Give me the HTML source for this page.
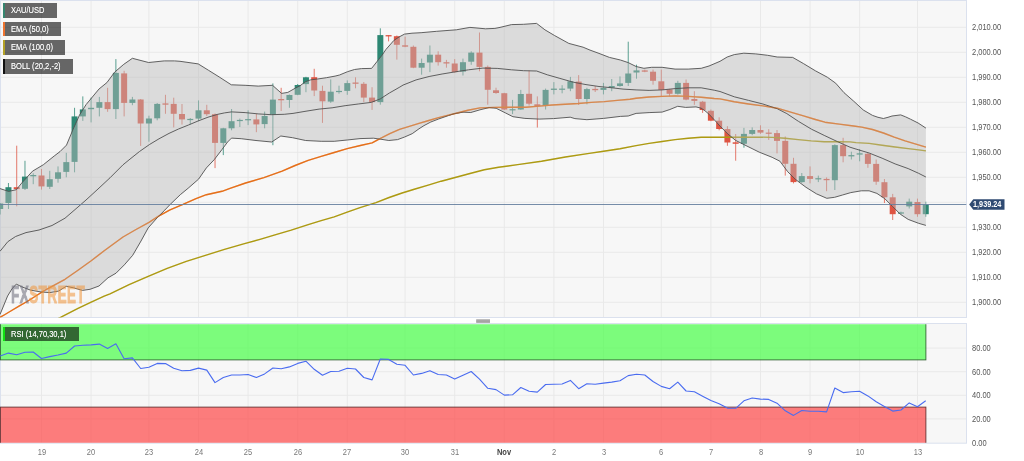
<!DOCTYPE html>
<html><head><meta charset="utf-8"><title>XAU/USD</title>
<style>
html,body{margin:0;padding:0;background:#fff;}
body{width:1024px;height:461px;position:relative;overflow:hidden;font-family:"Liberation Sans",sans-serif;}
.ax{position:absolute;left:972px;font-size:7.5px;line-height:10px;height:10px;color:#555;white-space:nowrap;transform:translateY(1.1px) scaleY(1.13);will-change:transform;}
.dt{position:absolute;top:447.5px;width:40px;text-align:center;font-size:7.5px;line-height:10px;color:#777;white-space:nowrap;transform:scaleY(1.13);will-change:transform;}
.dt.b{font-weight:bold;color:#444;}
.lg{position:absolute;left:3.1px;height:14.5px;box-sizing:border-box;border-left:2px solid #000;background:rgba(0,0,0,0.59);color:#fff;font-size:7.55px;line-height:14.5px;padding-left:6px;white-space:nowrap;overflow:hidden;}
.lg span{display:inline-block;transform:translateY(1.2px) scaleY(1.13);will-change:transform;text-shadow:0 0 0.5px rgba(255,255,255,0.55);}
.tag{position:absolute;left:973px;top:200.2px;width:30px;height:10px;line-height:10px;font-size:7.3px;font-weight:bold;color:#fff;white-space:nowrap;transform:scaleY(1.13);will-change:transform;}
.wm{position:absolute;left:10.6px;top:280.5px;font-size:23.3px;line-height:28px;font-weight:bold;white-space:nowrap;transform-origin:0 50%;transform:scaleX(0.585);letter-spacing:0.6px;will-change:transform;opacity:0.55;}
.wm .a{color:#6a6a78;-webkit-text-stroke:0.9px #6a6a78;}
.wm .c{color:#f0953a;-webkit-text-stroke:0.9px #f0953a;}
</style></head><body>
<svg width="1024" height="461" viewBox="0 0 1024 461" style="position:absolute;left:0;top:0">
<defs><clipPath id="cm"><rect x="0" y="0.5" width="966.5" height="317"/></clipPath><clipPath id="cr"><rect x="0" y="324.3" width="966.5" height="118.5"/></clipPath></defs>
<rect x="-1" y="0.5" width="967.5" height="317.0" fill="#f7f7f7" stroke="#dbe1ee" stroke-width="1"/>
<rect x="-1" y="323.5" width="967.5" height="119.69999999999999" fill="#f7f7f7" stroke="#dbe1ee" stroke-width="1"/>
<line x1="0.5" y1="0" x2="0.5" y2="317.5" stroke="#dbe1ee"/>
<line x1="0.5" y1="323.5" x2="0.5" y2="443.2" stroke="#dbe1ee"/>
<path d="M41.5 1V317.0M41.5 324.0V442.7M91.1 1V317.0M91.1 324.0V442.7M148.9 1V317.0M148.9 324.0V442.7M198.5 1V317.0M198.5 324.0V442.7M248.1 1V317.0M248.1 324.0V442.7M297.7 1V317.0M297.7 324.0V442.7M347.3 1V317.0M347.3 324.0V442.7M405.1 1V317.0M405.1 324.0V442.7M454.7 1V317.0M454.7 324.0V442.7M504.3 1V317.0M504.3 324.0V442.7M553.9 1V317.0M553.9 324.0V442.7M603.5 1V317.0M603.5 324.0V442.7M661.3 1V317.0M661.3 324.0V442.7M710.9 1V317.0M710.9 324.0V442.7M760.5 1V317.0M760.5 324.0V442.7M810.1 1V317.0M810.1 324.0V442.7M859.6 1V317.0M859.6 324.0V442.7M917.5 1V317.0M917.5 324.0V442.7M1 27.3H966.0M1 52.3H966.0M1 77.3H966.0M1 102.3H966.0M1 127.3H966.0M1 152.3H966.0M1 177.3H966.0M1 202.3H966.0M1 227.3H966.0M1 252.3H966.0M1 277.3H966.0M1 302.3H966.0M1 418.9H966.0M1 395.3H966.0M1 371.7H966.0M1 348.1H966.0" stroke="#e9e9e9" stroke-width="1" fill="none"/>
<g clip-path="url(#cm)">
<line x1="0.18" y1="203.0" x2="0.18" y2="214.5" stroke="#2d8773" stroke-width="1" stroke-opacity="0.78"/>
<rect x="-2.82" y="203.5" width="6" height="5.5" fill="#2d8773"/>
<line x1="8.44" y1="183.0" x2="8.44" y2="209.0" stroke="#2d8773" stroke-width="1" stroke-opacity="0.78"/>
<rect x="5.44" y="187.2" width="6" height="15.8" fill="#2d8773"/>
<line x1="16.71" y1="145.7" x2="16.71" y2="206.3" stroke="#de5442" stroke-width="1" stroke-opacity="0.78"/>
<rect x="13.71" y="187.2" width="6" height="1.9" fill="#de5442"/>
<line x1="24.97" y1="160.8" x2="24.97" y2="190.0" stroke="#2d8773" stroke-width="1" stroke-opacity="0.78"/>
<rect x="21.97" y="176.6" width="6" height="12.2" fill="#2d8773"/>
<line x1="33.24" y1="173.3" x2="33.24" y2="184.2" stroke="#2d8773" stroke-width="1" stroke-opacity="0.78"/>
<rect x="30.24" y="175.0" width="6" height="1.3" fill="#2d8773"/>
<line x1="41.50" y1="169.0" x2="41.50" y2="189.6" stroke="#de5442" stroke-width="1" stroke-opacity="0.78"/>
<rect x="38.50" y="175.5" width="6" height="10.9" fill="#de5442"/>
<line x1="49.76" y1="170.8" x2="49.76" y2="189.0" stroke="#2d8773" stroke-width="1" stroke-opacity="0.78"/>
<rect x="46.76" y="179.2" width="6" height="7.6" fill="#2d8773"/>
<line x1="58.03" y1="166.4" x2="58.03" y2="182.7" stroke="#2d8773" stroke-width="1" stroke-opacity="0.78"/>
<rect x="55.03" y="172.3" width="6" height="6.5" fill="#2d8773"/>
<line x1="66.29" y1="152.8" x2="66.29" y2="177.3" stroke="#2d8773" stroke-width="1" stroke-opacity="0.78"/>
<rect x="63.29" y="162.1" width="6" height="9.8" fill="#2d8773"/>
<line x1="74.56" y1="107.8" x2="74.56" y2="172.3" stroke="#2d8773" stroke-width="1" stroke-opacity="0.78"/>
<rect x="71.56" y="116.4" width="6" height="45.5" fill="#2d8773"/>
<line x1="82.82" y1="96.4" x2="82.82" y2="120.9" stroke="#2d8773" stroke-width="1" stroke-opacity="0.78"/>
<rect x="79.82" y="109.4" width="6" height="7.0" fill="#2d8773"/>
<line x1="91.08" y1="97.7" x2="91.08" y2="122.4" stroke="#2d8773" stroke-width="1" stroke-opacity="0.78"/>
<rect x="88.08" y="107.8" width="6" height="1.4" fill="#2d8773"/>
<line x1="99.35" y1="96.9" x2="99.35" y2="116.4" stroke="#2d8773" stroke-width="1" stroke-opacity="0.78"/>
<rect x="96.35" y="102.1" width="6" height="5.7" fill="#2d8773"/>
<line x1="107.61" y1="87.8" x2="107.61" y2="111.8" stroke="#de5442" stroke-width="1" stroke-opacity="0.78"/>
<rect x="104.61" y="102.1" width="6" height="7.0" fill="#de5442"/>
<line x1="115.88" y1="59.1" x2="115.88" y2="119.0" stroke="#2d8773" stroke-width="1" stroke-opacity="0.78"/>
<rect x="112.88" y="72.9" width="6" height="36.2" fill="#2d8773"/>
<line x1="124.14" y1="70.8" x2="124.14" y2="116.4" stroke="#de5442" stroke-width="1" stroke-opacity="0.78"/>
<rect x="121.14" y="73.4" width="6" height="29.5" fill="#de5442"/>
<line x1="132.40" y1="96.9" x2="132.40" y2="105.2" stroke="#2d8773" stroke-width="1" stroke-opacity="0.78"/>
<rect x="129.40" y="99.5" width="6" height="3.4" fill="#2d8773"/>
<line x1="140.67" y1="99.0" x2="140.67" y2="145.9" stroke="#de5442" stroke-width="1" stroke-opacity="0.78"/>
<rect x="137.67" y="99.5" width="6" height="24.0" fill="#de5442"/>
<line x1="148.93" y1="115.7" x2="148.93" y2="141.7" stroke="#2d8773" stroke-width="1" stroke-opacity="0.78"/>
<rect x="145.93" y="118.5" width="6" height="5.0" fill="#2d8773"/>
<line x1="157.20" y1="103.0" x2="157.20" y2="120.3" stroke="#2d8773" stroke-width="1" stroke-opacity="0.78"/>
<rect x="154.20" y="103.9" width="6" height="14.4" fill="#2d8773"/>
<line x1="165.46" y1="94.8" x2="165.46" y2="113.8" stroke="#de5442" stroke-width="1" stroke-opacity="0.78"/>
<rect x="162.46" y="103.4" width="6" height="1.3" fill="#de5442"/>
<line x1="173.72" y1="97.7" x2="173.72" y2="127.4" stroke="#de5442" stroke-width="1" stroke-opacity="0.78"/>
<rect x="170.72" y="103.9" width="6" height="9.9" fill="#de5442"/>
<line x1="181.99" y1="104.0" x2="181.99" y2="124.6" stroke="#de5442" stroke-width="1" stroke-opacity="0.78"/>
<rect x="178.99" y="114.0" width="6" height="5.4" fill="#de5442"/>
<line x1="190.25" y1="118.0" x2="190.25" y2="124.4" stroke="#2d8773" stroke-width="1" stroke-opacity="0.78"/>
<rect x="187.25" y="118.9" width="6" height="1.2" fill="#2d8773"/>
<line x1="198.52" y1="100.4" x2="198.52" y2="121.2" stroke="#2d8773" stroke-width="1" stroke-opacity="0.78"/>
<rect x="195.52" y="110.3" width="6" height="8.3" fill="#2d8773"/>
<line x1="206.78" y1="104.8" x2="206.78" y2="116.0" stroke="#de5442" stroke-width="1" stroke-opacity="0.78"/>
<rect x="203.78" y="110.3" width="6" height="3.9" fill="#de5442"/>
<line x1="215.04" y1="113.5" x2="215.04" y2="168.1" stroke="#de5442" stroke-width="1" stroke-opacity="0.78"/>
<rect x="212.04" y="114.2" width="6" height="28.7" fill="#de5442"/>
<line x1="223.31" y1="127.8" x2="223.31" y2="155.1" stroke="#2d8773" stroke-width="1" stroke-opacity="0.78"/>
<rect x="220.31" y="128.3" width="6" height="14.6" fill="#2d8773"/>
<line x1="231.57" y1="109.0" x2="231.57" y2="130.3" stroke="#2d8773" stroke-width="1" stroke-opacity="0.78"/>
<rect x="228.57" y="121.2" width="6" height="7.1" fill="#2d8773"/>
<line x1="239.84" y1="118.6" x2="239.84" y2="127.0" stroke="#2d8773" stroke-width="1" stroke-opacity="0.78"/>
<rect x="236.84" y="119.9" width="6" height="1.2" fill="#2d8773"/>
<line x1="248.10" y1="110.3" x2="248.10" y2="125.1" stroke="#2d8773" stroke-width="1" stroke-opacity="0.78"/>
<rect x="245.10" y="119.1" width="6" height="1.2" fill="#2d8773"/>
<line x1="256.36" y1="113.9" x2="256.36" y2="132.2" stroke="#de5442" stroke-width="1" stroke-opacity="0.78"/>
<rect x="253.36" y="119.4" width="6" height="5.0" fill="#de5442"/>
<line x1="264.63" y1="111.6" x2="264.63" y2="128.3" stroke="#2d8773" stroke-width="1" stroke-opacity="0.78"/>
<rect x="261.63" y="116.0" width="6" height="8.1" fill="#2d8773"/>
<line x1="272.89" y1="83.4" x2="272.89" y2="145.2" stroke="#2d8773" stroke-width="1" stroke-opacity="0.78"/>
<rect x="269.89" y="99.6" width="6" height="15.1" fill="#2d8773"/>
<line x1="281.16" y1="87.8" x2="281.16" y2="111.0" stroke="#de5442" stroke-width="1" stroke-opacity="0.78"/>
<rect x="278.16" y="99.0" width="6" height="1.3" fill="#de5442"/>
<line x1="289.42" y1="94.5" x2="289.42" y2="107.8" stroke="#2d8773" stroke-width="1" stroke-opacity="0.78"/>
<rect x="286.42" y="95.0" width="6" height="5.0" fill="#2d8773"/>
<line x1="297.68" y1="84.0" x2="297.68" y2="95.2" stroke="#2d8773" stroke-width="1" stroke-opacity="0.78"/>
<rect x="294.68" y="85.0" width="6" height="9.8" fill="#2d8773"/>
<line x1="305.95" y1="76.8" x2="305.95" y2="92.2" stroke="#2d8773" stroke-width="1" stroke-opacity="0.78"/>
<rect x="302.95" y="77.3" width="6" height="6.8" fill="#2d8773"/>
<line x1="314.21" y1="68.8" x2="314.21" y2="96.1" stroke="#de5442" stroke-width="1" stroke-opacity="0.78"/>
<rect x="311.21" y="77.2" width="6" height="13.3" fill="#de5442"/>
<line x1="322.48" y1="85.7" x2="322.48" y2="122.9" stroke="#de5442" stroke-width="1" stroke-opacity="0.78"/>
<rect x="319.48" y="90.9" width="6" height="10.4" fill="#de5442"/>
<line x1="330.74" y1="79.4" x2="330.74" y2="102.9" stroke="#2d8773" stroke-width="1" stroke-opacity="0.78"/>
<rect x="327.74" y="91.7" width="6" height="9.9" fill="#2d8773"/>
<line x1="339.00" y1="85.7" x2="339.00" y2="93.7" stroke="#2d8773" stroke-width="1" stroke-opacity="0.78"/>
<rect x="336.00" y="90.9" width="6" height="1.2" fill="#2d8773"/>
<line x1="347.27" y1="80.4" x2="347.27" y2="94.8" stroke="#2d8773" stroke-width="1" stroke-opacity="0.78"/>
<rect x="344.27" y="83.1" width="6" height="7.8" fill="#2d8773"/>
<line x1="355.53" y1="77.3" x2="355.53" y2="88.3" stroke="#de5442" stroke-width="1" stroke-opacity="0.78"/>
<rect x="352.53" y="82.5" width="6" height="1.3" fill="#de5442"/>
<line x1="363.80" y1="82.0" x2="363.80" y2="102.1" stroke="#de5442" stroke-width="1" stroke-opacity="0.78"/>
<rect x="360.80" y="83.8" width="6" height="13.8" fill="#de5442"/>
<line x1="372.06" y1="87.2" x2="372.06" y2="109.9" stroke="#de5442" stroke-width="1" stroke-opacity="0.78"/>
<rect x="369.06" y="97.6" width="6" height="4.5" fill="#de5442"/>
<line x1="380.32" y1="28.3" x2="380.32" y2="104.7" stroke="#2d8773" stroke-width="1" stroke-opacity="0.78"/>
<rect x="377.32" y="35.1" width="6" height="67.0" fill="#2d8773"/>
<line x1="388.59" y1="35.1" x2="388.59" y2="41.4" stroke="#de5442" stroke-width="1" stroke-opacity="0.78"/>
<rect x="385.59" y="35.1" width="6" height="1.3" fill="#de5442"/>
<line x1="396.85" y1="35.5" x2="396.85" y2="59.6" stroke="#de5442" stroke-width="1" stroke-opacity="0.78"/>
<rect x="393.85" y="36.2" width="6" height="8.6" fill="#de5442"/>
<line x1="405.12" y1="36.6" x2="405.12" y2="47.2" stroke="#de5442" stroke-width="1" stroke-opacity="0.78"/>
<rect x="402.12" y="45.3" width="6" height="1.4" fill="#de5442"/>
<line x1="413.38" y1="45.5" x2="413.38" y2="68.2" stroke="#de5442" stroke-width="1" stroke-opacity="0.78"/>
<rect x="410.38" y="46.8" width="6" height="20.9" fill="#de5442"/>
<line x1="421.64" y1="58.6" x2="421.64" y2="74.7" stroke="#2d8773" stroke-width="1" stroke-opacity="0.78"/>
<rect x="418.64" y="63.0" width="6" height="4.7" fill="#2d8773"/>
<line x1="429.91" y1="45.5" x2="429.91" y2="72.1" stroke="#2d8773" stroke-width="1" stroke-opacity="0.78"/>
<rect x="426.91" y="54.7" width="6" height="7.8" fill="#2d8773"/>
<line x1="438.17" y1="51.3" x2="438.17" y2="65.6" stroke="#de5442" stroke-width="1" stroke-opacity="0.78"/>
<rect x="435.17" y="54.7" width="6" height="7.5" fill="#de5442"/>
<line x1="446.44" y1="59.9" x2="446.44" y2="67.7" stroke="#de5442" stroke-width="1" stroke-opacity="0.78"/>
<rect x="443.44" y="62.2" width="6" height="1.3" fill="#de5442"/>
<line x1="454.70" y1="59.1" x2="454.70" y2="72.8" stroke="#de5442" stroke-width="1" stroke-opacity="0.78"/>
<rect x="451.70" y="63.5" width="6" height="8.6" fill="#de5442"/>
<line x1="462.96" y1="58.6" x2="462.96" y2="75.5" stroke="#2d8773" stroke-width="1" stroke-opacity="0.78"/>
<rect x="459.96" y="62.2" width="6" height="9.4" fill="#2d8773"/>
<line x1="471.23" y1="51.3" x2="471.23" y2="64.8" stroke="#2d8773" stroke-width="1" stroke-opacity="0.78"/>
<rect x="468.23" y="52.6" width="6" height="9.1" fill="#2d8773"/>
<line x1="479.49" y1="32.5" x2="479.49" y2="71.3" stroke="#de5442" stroke-width="1" stroke-opacity="0.78"/>
<rect x="476.49" y="52.6" width="6" height="14.3" fill="#de5442"/>
<line x1="487.76" y1="65.5" x2="487.76" y2="104.7" stroke="#de5442" stroke-width="1" stroke-opacity="0.78"/>
<rect x="484.76" y="66.9" width="6" height="22.9" fill="#de5442"/>
<line x1="496.02" y1="87.7" x2="496.02" y2="93.8" stroke="#de5442" stroke-width="1" stroke-opacity="0.78"/>
<rect x="493.02" y="90.3" width="6" height="2.7" fill="#de5442"/>
<line x1="504.28" y1="92.8" x2="504.28" y2="110.0" stroke="#de5442" stroke-width="1" stroke-opacity="0.78"/>
<rect x="501.28" y="93.2" width="6" height="16.3" fill="#de5442"/>
<line x1="512.55" y1="99.9" x2="512.55" y2="114.1" stroke="#2d8773" stroke-width="1" stroke-opacity="0.78"/>
<rect x="509.55" y="109.2" width="6" height="1.2" fill="#2d8773"/>
<line x1="520.81" y1="89.9" x2="520.81" y2="109.8" stroke="#2d8773" stroke-width="1" stroke-opacity="0.78"/>
<rect x="517.81" y="94.0" width="6" height="15.5" fill="#2d8773"/>
<line x1="529.08" y1="70.4" x2="529.08" y2="105.6" stroke="#de5442" stroke-width="1" stroke-opacity="0.78"/>
<rect x="526.08" y="93.8" width="6" height="9.9" fill="#de5442"/>
<line x1="537.34" y1="96.4" x2="537.34" y2="127.5" stroke="#de5442" stroke-width="1" stroke-opacity="0.78"/>
<rect x="534.34" y="104.3" width="6" height="2.0" fill="#de5442"/>
<line x1="545.60" y1="88.6" x2="545.60" y2="109.5" stroke="#2d8773" stroke-width="1" stroke-opacity="0.78"/>
<rect x="542.60" y="89.9" width="6" height="15.7" fill="#2d8773"/>
<line x1="553.87" y1="82.1" x2="553.87" y2="94.4" stroke="#2d8773" stroke-width="1" stroke-opacity="0.78"/>
<rect x="550.87" y="88.6" width="6" height="1.3" fill="#2d8773"/>
<line x1="562.13" y1="85.2" x2="562.13" y2="93.3" stroke="#2d8773" stroke-width="1" stroke-opacity="0.78"/>
<rect x="559.13" y="88.6" width="6" height="1.2" fill="#2d8773"/>
<line x1="570.40" y1="76.9" x2="570.40" y2="91.2" stroke="#2d8773" stroke-width="1" stroke-opacity="0.78"/>
<rect x="567.40" y="81.3" width="6" height="7.3" fill="#2d8773"/>
<line x1="578.66" y1="75.1" x2="578.66" y2="105.0" stroke="#de5442" stroke-width="1" stroke-opacity="0.78"/>
<rect x="575.66" y="81.6" width="6" height="17.4" fill="#de5442"/>
<line x1="586.92" y1="87.8" x2="586.92" y2="104.3" stroke="#2d8773" stroke-width="1" stroke-opacity="0.78"/>
<rect x="583.92" y="89.1" width="6" height="9.9" fill="#2d8773"/>
<line x1="595.19" y1="86.0" x2="595.19" y2="92.0" stroke="#de5442" stroke-width="1" stroke-opacity="0.78"/>
<rect x="592.19" y="88.9" width="6" height="1.3" fill="#de5442"/>
<line x1="603.45" y1="82.9" x2="603.45" y2="94.4" stroke="#2d8773" stroke-width="1" stroke-opacity="0.78"/>
<rect x="600.45" y="87.8" width="6" height="2.1" fill="#2d8773"/>
<line x1="611.72" y1="79.0" x2="611.72" y2="91.2" stroke="#2d8773" stroke-width="1" stroke-opacity="0.78"/>
<rect x="608.72" y="86.0" width="6" height="1.8" fill="#2d8773"/>
<line x1="619.98" y1="76.4" x2="619.98" y2="86.8" stroke="#2d8773" stroke-width="1" stroke-opacity="0.78"/>
<rect x="616.98" y="83.4" width="6" height="2.6" fill="#2d8773"/>
<line x1="628.24" y1="41.7" x2="628.24" y2="86.0" stroke="#2d8773" stroke-width="1" stroke-opacity="0.78"/>
<rect x="625.24" y="73.5" width="6" height="9.4" fill="#2d8773"/>
<line x1="636.51" y1="64.7" x2="636.51" y2="78.7" stroke="#2d8773" stroke-width="1" stroke-opacity="0.78"/>
<rect x="633.51" y="70.4" width="6" height="2.1" fill="#2d8773"/>
<line x1="644.77" y1="69.6" x2="644.77" y2="72.2" stroke="#de5442" stroke-width="1" stroke-opacity="0.78"/>
<rect x="641.77" y="70.4" width="6" height="1.3" fill="#de5442"/>
<line x1="653.04" y1="69.6" x2="653.04" y2="84.7" stroke="#de5442" stroke-width="1" stroke-opacity="0.78"/>
<rect x="650.04" y="71.7" width="6" height="9.1" fill="#de5442"/>
<line x1="661.30" y1="69.6" x2="661.30" y2="96.4" stroke="#de5442" stroke-width="1" stroke-opacity="0.78"/>
<rect x="658.30" y="81.3" width="6" height="8.6" fill="#de5442"/>
<line x1="669.56" y1="88.9" x2="669.56" y2="96.4" stroke="#de5442" stroke-width="1" stroke-opacity="0.78"/>
<rect x="666.56" y="89.4" width="6" height="4.4" fill="#de5442"/>
<line x1="677.83" y1="80.8" x2="677.83" y2="94.6" stroke="#2d8773" stroke-width="1" stroke-opacity="0.78"/>
<rect x="674.83" y="82.9" width="6" height="10.9" fill="#2d8773"/>
<line x1="686.09" y1="79.5" x2="686.09" y2="100.3" stroke="#de5442" stroke-width="1" stroke-opacity="0.78"/>
<rect x="683.09" y="82.9" width="6" height="16.7" fill="#de5442"/>
<line x1="694.36" y1="91.2" x2="694.36" y2="104.8" stroke="#de5442" stroke-width="1" stroke-opacity="0.78"/>
<rect x="691.36" y="99.0" width="6" height="1.9" fill="#de5442"/>
<line x1="702.62" y1="100.9" x2="702.62" y2="112.9" stroke="#de5442" stroke-width="1" stroke-opacity="0.78"/>
<rect x="699.62" y="101.7" width="6" height="8.3" fill="#de5442"/>
<line x1="710.88" y1="109.5" x2="710.88" y2="121.2" stroke="#de5442" stroke-width="1" stroke-opacity="0.78"/>
<rect x="707.88" y="110.8" width="6" height="9.9" fill="#de5442"/>
<line x1="719.15" y1="117.3" x2="719.15" y2="130.3" stroke="#de5442" stroke-width="1" stroke-opacity="0.78"/>
<rect x="716.15" y="120.7" width="6" height="8.3" fill="#de5442"/>
<line x1="727.41" y1="126.2" x2="727.41" y2="145.8" stroke="#de5442" stroke-width="1" stroke-opacity="0.78"/>
<rect x="724.41" y="129.1" width="6" height="13.4" fill="#de5442"/>
<line x1="735.68" y1="134.0" x2="735.68" y2="160.7" stroke="#de5442" stroke-width="1" stroke-opacity="0.78"/>
<rect x="732.68" y="142.3" width="6" height="1.5" fill="#de5442"/>
<line x1="743.94" y1="127.9" x2="743.94" y2="147.7" stroke="#2d8773" stroke-width="1" stroke-opacity="0.78"/>
<rect x="740.94" y="133.9" width="6" height="9.9" fill="#2d8773"/>
<line x1="752.20" y1="127.4" x2="752.20" y2="135.2" stroke="#2d8773" stroke-width="1" stroke-opacity="0.78"/>
<rect x="749.20" y="130.0" width="6" height="3.9" fill="#2d8773"/>
<line x1="760.47" y1="125.3" x2="760.47" y2="133.9" stroke="#de5442" stroke-width="1" stroke-opacity="0.78"/>
<rect x="757.47" y="130.0" width="6" height="2.6" fill="#de5442"/>
<line x1="768.73" y1="129.2" x2="768.73" y2="139.9" stroke="#de5442" stroke-width="1" stroke-opacity="0.78"/>
<rect x="765.73" y="132.6" width="6" height="1.2" fill="#de5442"/>
<line x1="777.00" y1="130.0" x2="777.00" y2="153.4" stroke="#de5442" stroke-width="1" stroke-opacity="0.78"/>
<rect x="774.00" y="133.1" width="6" height="7.8" fill="#de5442"/>
<line x1="785.26" y1="136.5" x2="785.26" y2="175.6" stroke="#de5442" stroke-width="1" stroke-opacity="0.78"/>
<rect x="782.26" y="140.9" width="6" height="22.9" fill="#de5442"/>
<line x1="793.52" y1="157.8" x2="793.52" y2="183.4" stroke="#de5442" stroke-width="1" stroke-opacity="0.78"/>
<rect x="790.52" y="163.8" width="6" height="18.3" fill="#de5442"/>
<line x1="801.79" y1="173.0" x2="801.79" y2="182.9" stroke="#2d8773" stroke-width="1" stroke-opacity="0.78"/>
<rect x="798.79" y="176.1" width="6" height="6.0" fill="#2d8773"/>
<line x1="810.05" y1="166.4" x2="810.05" y2="183.4" stroke="#de5442" stroke-width="1" stroke-opacity="0.78"/>
<rect x="807.05" y="176.1" width="6" height="2.8" fill="#de5442"/>
<line x1="818.32" y1="175.6" x2="818.32" y2="182.1" stroke="#2d8773" stroke-width="1" stroke-opacity="0.78"/>
<rect x="815.32" y="178.2" width="6" height="1.2" fill="#2d8773"/>
<line x1="826.58" y1="177.4" x2="826.58" y2="191.2" stroke="#de5442" stroke-width="1" stroke-opacity="0.78"/>
<rect x="823.58" y="178.9" width="6" height="1.3" fill="#de5442"/>
<line x1="834.84" y1="144.3" x2="834.84" y2="190.0" stroke="#2d8773" stroke-width="1" stroke-opacity="0.78"/>
<rect x="831.84" y="145.1" width="6" height="35.1" fill="#2d8773"/>
<line x1="843.11" y1="137.8" x2="843.11" y2="162.3" stroke="#de5442" stroke-width="1" stroke-opacity="0.78"/>
<rect x="840.11" y="145.1" width="6" height="11.1" fill="#de5442"/>
<line x1="851.37" y1="151.7" x2="851.37" y2="159.5" stroke="#2d8773" stroke-width="1" stroke-opacity="0.78"/>
<rect x="848.37" y="155.1" width="6" height="1.3" fill="#2d8773"/>
<line x1="859.64" y1="149.1" x2="859.64" y2="161.3" stroke="#2d8773" stroke-width="1" stroke-opacity="0.78"/>
<rect x="856.64" y="153.3" width="6" height="1.3" fill="#2d8773"/>
<line x1="867.90" y1="153.0" x2="867.90" y2="167.8" stroke="#de5442" stroke-width="1" stroke-opacity="0.78"/>
<rect x="864.90" y="153.8" width="6" height="10.1" fill="#de5442"/>
<line x1="876.16" y1="159.5" x2="876.16" y2="184.8" stroke="#de5442" stroke-width="1" stroke-opacity="0.78"/>
<rect x="873.16" y="163.9" width="6" height="17.8" fill="#de5442"/>
<line x1="884.43" y1="179.0" x2="884.43" y2="203.0" stroke="#de5442" stroke-width="1" stroke-opacity="0.78"/>
<rect x="881.43" y="182.2" width="6" height="15.1" fill="#de5442"/>
<line x1="892.69" y1="193.9" x2="892.69" y2="220.0" stroke="#de5442" stroke-width="1" stroke-opacity="0.78"/>
<rect x="889.69" y="197.3" width="6" height="16.9" fill="#de5442"/>
<line x1="900.96" y1="211.6" x2="900.96" y2="214.2" stroke="#2d8773" stroke-width="1" stroke-opacity="0.78"/>
<rect x="897.96" y="212.4" width="6" height="1.2" fill="#2d8773"/>
<line x1="909.22" y1="198.6" x2="909.22" y2="208.5" stroke="#2d8773" stroke-width="1" stroke-opacity="0.78"/>
<rect x="906.22" y="201.7" width="6" height="4.7" fill="#2d8773"/>
<line x1="917.48" y1="198.6" x2="917.48" y2="216.8" stroke="#de5442" stroke-width="1" stroke-opacity="0.78"/>
<rect x="914.48" y="202.0" width="6" height="12.2" fill="#de5442"/>
<line x1="925.75" y1="201.7" x2="925.75" y2="216.8" stroke="#2d8773" stroke-width="1" stroke-opacity="0.78"/>
<rect x="922.75" y="204.6" width="6" height="9.6" fill="#2d8773"/>
<polyline points="0.0,317.4 5.0,314.5 10.8,311.0 19.0,306.2 27.1,301.5 35.0,296.5 43.4,291.1 52.0,286.3 65.0,279.3 78.0,270.2 91.2,260.7 104.2,250.8 110.0,246.5 123.0,237.0 136.0,229.5 149.0,222.4 158.2,216.3 170.0,209.8 183.0,204.4 196.0,198.6 206.4,194.7 222.0,191.3 230.0,188.4 245.6,183.0 263.9,177.7 282.1,171.2 295.1,165.5 308.2,160.3 321.2,156.4 334.2,152.5 347.2,148.6 360.4,145.5 372.1,142.9 380.0,138.6 389.8,133.7 399.5,129.3 409.3,126.4 419.0,123.4 428.8,120.5 438.6,117.6 448.4,115.1 458.1,112.7 467.9,110.3 480.0,107.9 494.2,107.4 507.2,107.2 520.0,107.2 526.0,107.2 539.1,106.1 552.1,105.0 565.1,104.3 578.2,103.5 591.2,102.4 604.2,101.6 617.2,100.4 630.0,99.2 636.1,98.3 649.1,97.0 662.1,96.4 675.1,95.9 688.2,96.4 701.2,97.2 714.2,98.5 720.0,98.9 734.3,101.8 748.6,104.0 762.9,105.9 777.2,108.2 791.5,112.3 803.5,115.9 815.4,119.5 824.9,122.2 839.2,124.1 853.6,126.0 861.7,127.1 872.5,129.5 883.4,133.0 894.2,137.1 905.1,140.9 915.9,144.2 925.9,147.2" fill="none" stroke="#e66f1a" stroke-width="1.4" stroke-linejoin="round"/>
<polyline points="55.0,320.0 61.0,317.2 78.0,308.4 91.2,302.1 104.2,296.2 110.0,293.9 129.1,284.6 148.2,276.3 167.2,268.4 186.3,261.3 205.4,255.3 224.5,249.4 243.6,243.9 260.0,239.3 275.0,234.8 291.2,230.1 308.2,224.6 321.2,220.7 334.2,216.8 347.2,212.1 360.0,207.7 376.0,202.6 389.1,197.5 402.1,193.0 415.1,189.0 428.2,185.1 441.2,181.2 454.2,177.8 470.0,173.5 484.3,169.8 498.6,167.3 517.7,164.6 541.5,161.3 565.4,157.0 589.2,153.4 603.6,151.3 620.0,148.8 636.1,145.6 649.1,143.4 662.1,141.5 675.1,139.6 688.2,138.2 701.2,137.3 714.2,137.1 727.2,137.3 746.0,137.3 759.1,137.1 772.1,137.4 785.1,138.3 798.2,139.6 811.2,140.9 824.2,141.7 837.2,141.8 850.0,141.9 856.1,142.6 869.1,143.4 882.1,145.2 895.1,147.0 908.2,148.6 918.6,149.9 925.9,150.9" fill="none" stroke="#ad9a12" stroke-width="1.4" stroke-linejoin="round"/>
<polygon points="0.0,188.6 8.7,191.4 16.3,189.7 21.7,183.1 32.5,171.2 43.4,164.7 54.2,156.0 60.0,151.6 66.5,145.1 73.0,129.5 79.5,115.1 86.0,104.7 99.0,89.0 106.9,82.6 114.7,72.1 123.8,64.3 132.4,58.3 148.6,62.5 164.2,60.9 174.6,60.9 180.0,61.3 198.2,63.9 208.7,70.4 219.1,76.9 231.3,84.8 245.1,85.3 258.2,86.1 272.5,85.3 281.6,93.4 287.8,92.4 295.6,88.0 300.0,85.8 305.3,81.8 310.5,79.9 317.6,79.0 326.4,77.7 335.1,76.1 339.5,75.0 347.5,71.7 354.5,69.5 361.5,68.6 371.6,68.4 377.3,61.2 382.2,55.0 385.9,49.5 393.8,40.5 399.0,37.0 404.5,34.1 412.0,33.2 421.1,32.7 436.7,31.3 456.3,29.8 469.9,27.4 477.0,28.0 485.5,28.8 494.9,28.4 500.0,27.4 511.5,24.6 523.5,24.3 536.6,23.4 544.9,29.8 554.5,35.5 568.8,43.4 583.1,47.2 590.0,50.1 599.0,53.4 609.4,57.4 620.4,60.0 628.2,62.6 636.1,66.5 643.9,68.3 651.7,67.3 662.1,67.3 675.1,69.1 688.2,69.1 701.2,68.3 709.0,66.0 720.0,61.3 727.2,57.0 734.3,54.6 743.8,53.2 755.8,53.9 767.7,55.3 777.2,57.0 792.7,57.4 803.5,63.6 815.4,70.8 827.3,77.2 835.7,83.2 844.0,92.7 853.6,101.1 863.3,110.0 872.5,115.4 878.0,117.3 883.4,118.5 888.0,117.3 892.0,116.0 900.7,114.9 905.5,116.8 910.5,119.2 918.1,123.0 925.9,128.1 925.9,225.4 918.6,223.3 908.2,219.4 900.3,214.2 892.5,206.4 884.7,198.6 876.9,193.4 869.1,190.8 861.3,190.8 850.8,192.6 842.5,195.0 834.6,197.3 826.8,198.3 816.4,193.8 806.0,187.3 795.6,179.5 787.7,171.7 779.9,161.2 772.1,157.3 759.1,152.1 746.0,145.6 735.6,140.4 727.8,133.9 720.0,126.1 716.8,122.5 709.0,114.2 705.0,110.8 701.2,108.2 696.0,106.9 685.6,107.4 677.7,106.3 669.9,109.5 662.1,112.1 649.1,112.6 636.1,113.4 628.2,116.0 620.4,116.4 612.0,117.4 603.6,118.4 586.9,119.7 574.9,118.6 570.2,117.2 553.5,118.6 539.2,119.1 524.9,118.4 512.9,116.7 505.8,113.1 496.2,108.3 489.1,107.6 480.0,109.8 470.8,112.5 463.0,112.2 454.2,113.7 448.4,115.6 438.6,119.0 430.8,122.0 424.0,125.6 419.0,128.8 412.2,133.7 404.4,137.1 397.6,139.6 388.8,140.5 380.0,139.1 373.4,138.2 360.0,138.6 347.2,140.0 334.2,141.3 321.2,141.3 305.6,140.5 292.5,137.7 280.8,136.0 271.7,142.0 256.0,140.5 241.2,138.7 231.5,138.1 227.6,142.0 222.0,149.5 214.2,159.7 206.4,167.9 198.6,179.1 188.2,188.2 180.3,194.7 170.0,204.6 164.9,210.0 157.7,217.2 148.2,227.9 141.0,241.0 132.7,255.3 124.3,264.9 116.0,273.2 108.0,277.8 99.0,286.0 90.0,289.3 82.4,290.4 73.8,287.9 66.2,286.3 58.6,291.1 49.9,292.6 41.2,292.0 30.4,290.1 21.7,286.8 16.3,284.1 11.9,289.0 7.6,296.0 3.5,306.0 0.0,314.5" fill="rgb(188,188,188)" fill-opacity="0.47"/>
<polyline points="0.0,188.6 8.7,191.4 16.3,189.7 21.7,183.1 32.5,171.2 43.4,164.7 54.2,156.0 60.0,151.6 66.5,145.1 73.0,129.5 79.5,115.1 86.0,104.7 99.0,89.0 106.9,82.6 114.7,72.1 123.8,64.3 132.4,58.3 148.6,62.5 164.2,60.9 174.6,60.9 180.0,61.3 198.2,63.9 208.7,70.4 219.1,76.9 231.3,84.8 245.1,85.3 258.2,86.1 272.5,85.3 281.6,93.4 287.8,92.4 295.6,88.0 300.0,85.8 305.3,81.8 310.5,79.9 317.6,79.0 326.4,77.7 335.1,76.1 339.5,75.0 347.5,71.7 354.5,69.5 361.5,68.6 371.6,68.4 377.3,61.2 382.2,55.0 385.9,49.5 393.8,40.5 399.0,37.0 404.5,34.1 412.0,33.2 421.1,32.7 436.7,31.3 456.3,29.8 469.9,27.4 477.0,28.0 485.5,28.8 494.9,28.4 500.0,27.4 511.5,24.6 523.5,24.3 536.6,23.4 544.9,29.8 554.5,35.5 568.8,43.4 583.1,47.2 590.0,50.1 599.0,53.4 609.4,57.4 620.4,60.0 628.2,62.6 636.1,66.5 643.9,68.3 651.7,67.3 662.1,67.3 675.1,69.1 688.2,69.1 701.2,68.3 709.0,66.0 720.0,61.3 727.2,57.0 734.3,54.6 743.8,53.2 755.8,53.9 767.7,55.3 777.2,57.0 792.7,57.4 803.5,63.6 815.4,70.8 827.3,77.2 835.7,83.2 844.0,92.7 853.6,101.1 863.3,110.0 872.5,115.4 878.0,117.3 883.4,118.5 888.0,117.3 892.0,116.0 900.7,114.9 905.5,116.8 910.5,119.2 918.1,123.0 925.9,128.1" fill="none" stroke="#505050" stroke-width="0.9" stroke-linejoin="round"/>
<polyline points="0.0,251.3 7.8,241.7 15.6,236.5 26.0,232.6 39.0,230.0 52.0,225.5 65.0,218.2 78.0,207.0 86.0,200.0 98.0,189.0 110.0,177.8 123.0,164.8 130.0,159.1 139.5,151.5 149.5,144.5 159.0,138.8 169.0,133.4 178.5,129.0 188.5,125.0 198.0,121.0 208.0,117.2 217.8,114.3 224.5,112.9 231.5,111.9 245.1,112.6 258.2,113.9 271.2,114.7 284.2,114.3 293.0,113.4 306.0,111.2 319.1,109.1 332.1,107.8 345.1,105.7 358.2,104.0 371.2,102.4 380.3,98.9 389.4,93.0 399.9,87.0 403.0,85.1 416.1,79.9 429.1,76.5 442.1,74.0 454.3,72.0 468.6,69.8 482.9,68.1 497.2,68.4 511.5,69.8 523.5,70.7 536.6,71.0 547.3,74.8 559.9,78.4 573.3,82.2 586.0,84.6 599.0,86.5 612.0,87.8 623.0,89.1 636.1,89.9 649.1,90.4 662.1,89.9 675.1,88.6 688.2,87.8 701.2,87.8 714.2,90.2 720.0,91.5 734.3,96.8 748.6,100.4 762.9,104.0 777.2,108.7 786.8,113.6 798.5,121.4 811.5,129.2 824.2,135.4 837.2,141.5 850.0,147.2 856.1,149.1 869.1,153.0 882.1,158.2 895.1,163.9 908.2,168.6 918.6,173.3 925.9,177.0" fill="none" stroke="#505050" stroke-width="0.9" stroke-linejoin="round"/>
<polyline points="0.0,314.5 3.5,306.0 7.6,296.0 11.9,289.0 16.3,284.1 21.7,286.8 30.4,290.1 41.2,292.0 49.9,292.6 58.6,291.1 66.2,286.3 73.8,287.9 82.4,290.4 90.0,289.3 99.0,286.0 108.0,277.8 116.0,273.2 124.3,264.9 132.7,255.3 141.0,241.0 148.2,227.9 157.7,217.2 164.9,210.0 170.0,204.6 180.3,194.7 188.2,188.2 198.6,179.1 206.4,167.9 214.2,159.7 222.0,149.5 227.6,142.0 231.5,138.1 241.2,138.7 256.0,140.5 271.7,142.0 280.8,136.0 292.5,137.7 305.6,140.5 321.2,141.3 334.2,141.3 347.2,140.0 360.0,138.6 373.4,138.2 380.0,139.1 388.8,140.5 397.6,139.6 404.4,137.1 412.2,133.7 419.0,128.8 424.0,125.6 430.8,122.0 438.6,119.0 448.4,115.6 454.2,113.7 463.0,112.2 470.8,112.5 480.0,109.8 489.1,107.6 496.2,108.3 505.8,113.1 512.9,116.7 524.9,118.4 539.2,119.1 553.5,118.6 570.2,117.2 574.9,118.6 586.9,119.7 603.6,118.4 612.0,117.4 620.4,116.4 628.2,116.0 636.1,113.4 649.1,112.6 662.1,112.1 669.9,109.5 677.7,106.3 685.6,107.4 696.0,106.9 701.2,108.2 705.0,110.8 709.0,114.2 716.8,122.5 720.0,126.1 727.8,133.9 735.6,140.4 746.0,145.6 759.1,152.1 772.1,157.3 779.9,161.2 787.7,171.7 795.6,179.5 806.0,187.3 816.4,193.8 826.8,198.3 834.6,197.3 842.5,195.0 850.8,192.6 861.3,190.8 869.1,190.8 876.9,193.4 884.7,198.6 892.5,206.4 900.3,214.2 908.2,219.4 918.6,223.3 925.9,225.4" fill="none" stroke="#505050" stroke-width="0.9" stroke-linejoin="round"/>
<polyline points="0.0,317.4 5.0,314.5 10.8,311.0 19.0,306.2 27.1,301.5 35.0,296.5 43.4,291.1 52.0,286.3 65.0,279.3 78.0,270.2 91.2,260.7 104.2,250.8 110.0,246.5 123.0,237.0 136.0,229.5 149.0,222.4 158.2,216.3 170.0,209.8 183.0,204.4 196.0,198.6 206.4,194.7 222.0,191.3 230.0,188.4 245.6,183.0 263.9,177.7 282.1,171.2 295.1,165.5 308.2,160.3 321.2,156.4 334.2,152.5 347.2,148.6 360.4,145.5 372.1,142.9 380.0,138.6 389.8,133.7 399.5,129.3 409.3,126.4 419.0,123.4 428.8,120.5 438.6,117.6 448.4,115.1 458.1,112.7 467.9,110.3 480.0,107.9 494.2,107.4 507.2,107.2 520.0,107.2 526.0,107.2 539.1,106.1 552.1,105.0 565.1,104.3 578.2,103.5 591.2,102.4 604.2,101.6 617.2,100.4 630.0,99.2 636.1,98.3 649.1,97.0 662.1,96.4 675.1,95.9 688.2,96.4 701.2,97.2 714.2,98.5 720.0,98.9 734.3,101.8 748.6,104.0 762.9,105.9 777.2,108.2 791.5,112.3 803.5,115.9 815.4,119.5 824.9,122.2 839.2,124.1 853.6,126.0 861.7,127.1 872.5,129.5 883.4,133.0 894.2,137.1 905.1,140.9 915.9,144.2 925.9,147.2" fill="none" stroke="#e66f1a" stroke-opacity="0.3" stroke-width="1.4" stroke-linejoin="round"/>
<polyline points="55.0,320.0 61.0,317.2 78.0,308.4 91.2,302.1 104.2,296.2 110.0,293.9 129.1,284.6 148.2,276.3 167.2,268.4 186.3,261.3 205.4,255.3 224.5,249.4 243.6,243.9 260.0,239.3 275.0,234.8 291.2,230.1 308.2,224.6 321.2,220.7 334.2,216.8 347.2,212.1 360.0,207.7 376.0,202.6 389.1,197.5 402.1,193.0 415.1,189.0 428.2,185.1 441.2,181.2 454.2,177.8 470.0,173.5 484.3,169.8 498.6,167.3 517.7,164.6 541.5,161.3 565.4,157.0 589.2,153.4 603.6,151.3 620.0,148.8 636.1,145.6 649.1,143.4 662.1,141.5 675.1,139.6 688.2,138.2 701.2,137.3 714.2,137.1 727.2,137.3 746.0,137.3 759.1,137.1 772.1,137.4 785.1,138.3 798.2,139.6 811.2,140.9 824.2,141.7 837.2,141.8 850.0,141.9 856.1,142.6 869.1,143.4 882.1,145.2 895.1,147.0 908.2,148.6 918.6,149.9 925.9,150.9" fill="none" stroke="#ad9a12" stroke-opacity="0.12" stroke-width="1.4" stroke-linejoin="round"/>
<line x1="0" y1="204.5" x2="966.5" y2="204.5" stroke="#66809f" stroke-opacity="0.9" stroke-width="1"/>
</g>
<g clip-path="url(#cr)">
<rect x="0.4" y="320" width="925.5" height="39.9" fill="#3dff3d" fill-opacity="0.66" stroke="#1d4d1d" stroke-opacity="0.85" stroke-width="0.9"/>
<rect x="0.4" y="407.1" width="925.5" height="38.9" fill="#ff3d3d" fill-opacity="0.66" stroke="#4d1d1d" stroke-opacity="0.85" stroke-width="0.9"/>
<polyline points="0.2,356.0 8.4,353.1 16.7,354.7 25.0,352.2 33.2,352.0 41.5,358.5 49.8,356.6 58.0,355.0 66.3,353.1 74.6,346.0 82.8,345.2 91.1,344.9 99.3,344.1 107.6,348.5 115.9,343.8 124.1,358.8 132.4,357.9 140.7,368.5 148.9,367.2 157.2,363.4 165.5,363.6 173.7,368.2 182.0,370.7 190.3,370.4 198.5,368.1 206.8,370.1 215.0,382.6 223.3,377.5 231.6,375.0 239.8,375.0 248.1,374.5 256.4,377.5 264.6,373.9 272.9,368.0 281.2,368.8 289.4,366.9 297.7,363.4 305.9,361.2 314.2,369.3 322.5,375.3 330.7,371.5 339.0,371.2 347.3,368.2 355.5,369.0 363.8,377.5 372.1,379.9 380.3,359.0 388.6,359.4 396.9,364.2 405.1,365.3 413.4,375.0 421.6,373.4 429.9,370.7 438.2,374.5 446.4,375.0 454.7,379.1 463.0,375.3 471.2,371.5 479.5,379.1 487.8,388.3 496.0,389.6 504.3,395.1 512.5,394.8 520.8,387.5 529.1,391.3 537.3,392.1 545.6,384.5 553.9,384.2 562.1,384.0 570.4,380.4 578.7,388.7 586.9,383.7 595.2,384.2 603.5,383.1 611.7,382.1 620.0,380.7 628.2,375.6 636.5,374.2 644.8,375.0 653.0,381.5 661.3,386.4 669.6,388.8 677.8,382.1 686.1,391.0 694.4,391.8 702.6,396.2 710.9,400.5 719.1,403.7 727.4,408.1 735.7,408.3 743.9,400.8 752.2,398.0 760.5,399.1 768.7,399.4 777.0,403.2 785.3,410.8 793.5,415.4 801.8,410.5 810.1,411.3 818.3,411.3 826.6,411.9 834.8,388.0 843.1,392.6 851.4,391.8 859.6,391.3 867.9,395.9 876.2,401.8 884.4,406.4 892.7,411.1 901.0,410.0 909.2,402.9 917.5,406.7 925.7,400.8" fill="none" stroke="#4a6cf0" stroke-width="1.1" stroke-linejoin="round"/>
</g>
<rect x="476.2" y="319.2" width="13.8" height="3.8" fill="#b0aeae"/>
<rect x="476.2" y="320.7" width="13.8" height="0.8" fill="#9a9898"/>
<path d="M969.2 204.5 L973.3 199.2 H1004.5 V209.8 H973.3 Z" fill="#2f4a72"/>
</svg>
<div class="wm"><span class="a">FX</span><span class="c">STREET</span></div>
<div class="ax" style="top:22.3px">2,010.00</div><div class="ax" style="top:47.3px">2,000.00</div><div class="ax" style="top:72.3px">1,990.00</div><div class="ax" style="top:97.3px">1,980.00</div><div class="ax" style="top:122.3px">1,970.00</div><div class="ax" style="top:147.3px">1,960.00</div><div class="ax" style="top:172.3px">1,950.00</div><div class="ax" style="top:222.3px">1,930.00</div><div class="ax" style="top:247.3px">1,920.00</div><div class="ax" style="top:272.3px">1,910.00</div><div class="ax" style="top:297.3px">1,900.00</div><div class="ax" style="top:437.5px">0.00</div><div class="ax" style="top:413.9px">20.00</div><div class="ax" style="top:390.3px">40.00</div><div class="ax" style="top:366.7px">60.00</div><div class="ax" style="top:343.1px">80.00</div><div class="dt" style="left:21.5px">19</div><div class="dt" style="left:71.1px">20</div><div class="dt" style="left:128.9px">23</div><div class="dt" style="left:178.5px">24</div><div class="dt" style="left:228.1px">25</div><div class="dt" style="left:277.7px">26</div><div class="dt" style="left:327.3px">27</div><div class="dt" style="left:385.1px">30</div><div class="dt" style="left:434.7px">31</div><div class="dt b" style="left:484.3px">Nov</div><div class="dt" style="left:533.9px">2</div><div class="dt" style="left:583.5px">3</div><div class="dt" style="left:641.3px">6</div><div class="dt" style="left:690.9px">7</div><div class="dt" style="left:740.5px">8</div><div class="dt" style="left:790.1px">9</div><div class="dt" style="left:839.6px">10</div><div class="dt" style="left:897.5px">13</div><div class="lg" style="top:3.1px;width:53.8px;border-left-color:#34846f"><span>XAU/USD</span></div><div class="lg" style="top:21.8px;width:57.9px;border-left-color:#ee7330"><span>EMA (50,0)</span></div><div class="lg" style="top:40.4px;width:62.1px;border-left-color:#b3a127"><span>EMA (100,0)</span></div><div class="lg" style="top:59.0px;width:69.7px;border-left-color:#111"><span>BOLL (20,2,-2)</span></div><div class="lg" style="top:326.6px;width:75.5px;border-left-color:#10e010"><span>RSI (14,70,30,1)</span></div>
<div class="tag">1,939.24</div>
</body></html>
